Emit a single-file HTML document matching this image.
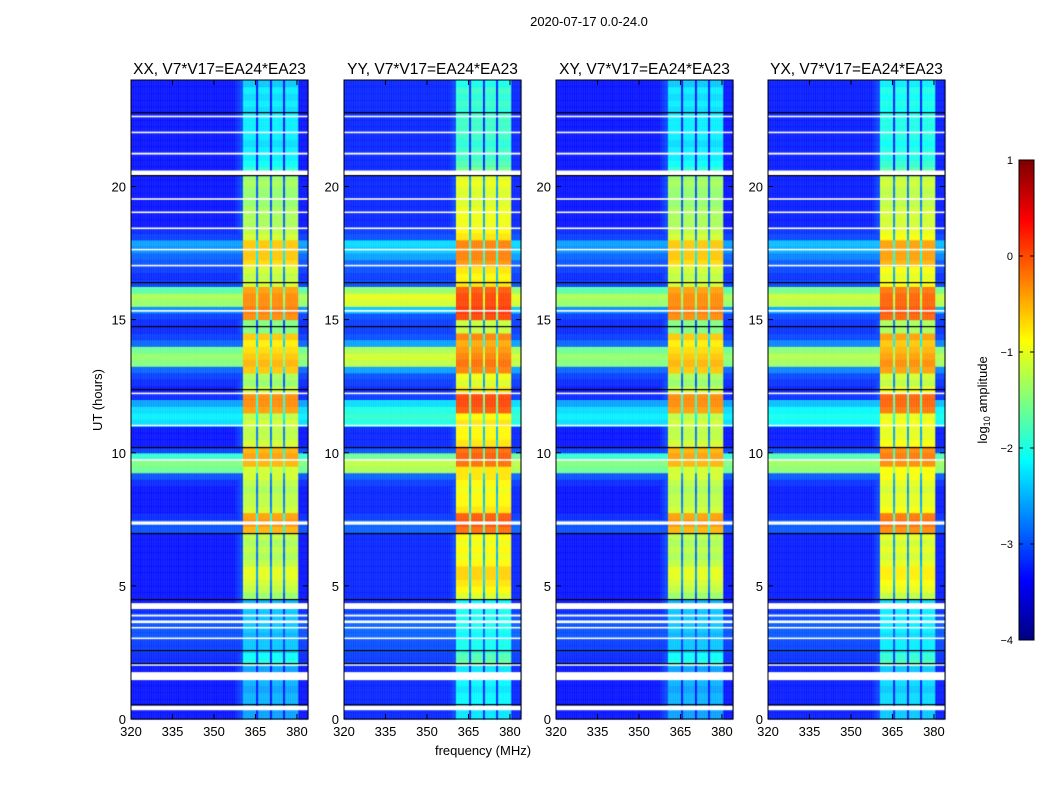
<!DOCTYPE html>
<html><head><meta charset="utf-8"><style>
body{margin:0;background:#fff;width:1050px;height:800px;overflow:hidden;position:relative;font-family:"Liberation Sans",sans-serif}
canvas{position:absolute}
svg{position:absolute;left:0;top:0}
</style></head><body>
<canvas id="cv" width="1050" height="800"></canvas>
<svg id="sv" width="1050" height="800"></svg>
<script>
// ---- data ----
const panelTitles=["XX, V7*V17=EA24*EA23","YY, V7*V17=EA24*EA23","XY, V7*V17=EA24*EA23","YX, V7*V17=EA24*EA23"];
const panelBandOffset=[-0.2,0.15,-0.2,0.0];
const panelBroadOffset=[0,0.3,0,0.15];
const xTicks=[320,335,350,365,380];
const yTicks=[0,5,10,15,20];
const cbTicks=[1,0,-1,-2,-3,-4];
// band level (log10 amp) per 0.25 hr, 96 rows
const bandLevel=[-2.4,-2.4,-2.3,-2.3,-2.4,-2.3,-2.3,-2.4,-1.8,-1.9,-2.2,-2.2,-2.3,-2.2,-2.2,-2.2,-2.2,-2.3,
 -1.2,-1.0,-0.9,-0.8,-0.8,-1.0,-1.1,-1.0,-1.1,-1.0,-0.3,-0.1,-0.2,-0.9,-1.0,-1.0,-1.1,-1.0,-0.9,-0.9,-0.3,-0.2,-0.3,-0.9,
 -1.0,-1.0,-0.9,-1.0,-0.2,-0.1,-0.1,-0.9,-1.2,-1.1,-0.4,-0.3,-0.4,-0.5,-0.6,-0.4,-1.3,-1.3,-0.1,0.0,-0.1,-0.1,-0.2,-0.9,
 -1.0,-0.9,-0.5,-0.4,-0.4,-0.4,-0.9,-1.0,-1.1,-1.1,-1.1,-1.2,-1.2,-1.2,-1.1,-1.2,-1.7,-1.9,-2.0,-2.0,-2.1,-2.0,-2.0,-2.0,
 -2.0,-2.1,-2.0,-2.1,-2.0,-2.2];
// broadband level per 0.25 hr
const broadLevel=[-3.3,-3.3,-3.3,-3.3,-3.3,-3.3,-3.3,-3.3,-3.2,-3.2,-3.1,-3.1,-3.0,-3.0,-3.0,-3.1,-3.2,-3.3,
 -3.3,-3.3,-3.3,-3.3,-3.3,-3.3,-3.3,-3.3,-3.3,-3.3,-3.0,-3.0,-3.2,-3.3,-3.3,-3.3,-3.3,-3.2,-3.0,-1.6,-1.5,-1.9,-3.1,
 -3.3,-3.3,-3.3,-2.3,-2.2,-2.3,-2.6,-3.2,-3.3,-3.2,-3.1,-2.9,-1.5,-1.4,-1.6,-2.9,-3.1,-3.2,-3.2,-3.1,-2.7,-1.4,-1.3,-1.7,
 -3.1,-3.2,-3.1,-3.0,-2.9,-2.7,-2.6,-3.1,-3.2,-3.3,-3.3,-3.3,-3.3,-3.3,-3.3,-3.3,-3.3,-3.3,-3.3,-3.3,-3.3,-3.3,-3.3,
 -3.3,-3.3,-3.3,-3.3,-3.3,-3.3,-3.3,-3.3];
// white (flagged) gaps [start hr, end hr]
const gapStart=[0.33,1.46,2.0,3.0,3.4,3.6,3.85,4.13,7.3,9.7,11.0,12.2,15.3,17.0,17.6,18.4,19.0,19.5,20.4,21.2,22.0,22.6];
const gapEnd  =[0.5,1.76,2.06,3.06,3.46,3.7,3.92,4.35,7.42,9.76,11.05,12.26,15.36,17.06,17.66,18.46,19.06,19.56,20.6,21.27,22.06,22.66];
// black lines (hr)
const blackLines=[0.55,2.12,2.6,4.5,7.0,10.2,12.4,14.75,16.4,20.45,22.8];
// ---- layout ----
const panelX=[131,344,556,768], PW=177, PT=80, PB=719;
const fMin=320,fMax=384,tMax=24;
function xs(p,f){return panelX[p]+(f-fMin)/(fMax-fMin)*PW}
function ys(t){return PB-t/tMax*(PB-PT)}
function jet(v){
 const c=x=>Math.max(0,Math.min(1,x));
 const r=c(1.5-Math.abs(4*v-3)),g=c(1.5-Math.abs(4*v-2)),b=c(1.5-Math.abs(4*v-1));
 return `rgb(${r*255|0},${g*255|0},${b*255|0})`}
function lv(x){return jet((x+4)/5)}
function freqMask(fc){
 if(fc>=360.5&&fc<380.5){
  if(Math.abs(fc-365.6)<0.3||Math.abs(fc-370.6)<0.3||Math.abs(fc-375.4)<0.3) return -1.6;
  return 0;}
 return null;}
const cv=document.getElementById('cv'),ctx=cv.getContext('2d');
const step=0.25;
for(let p=0;p<4;p++){
 for(let i=0;i<bandLevel.length;i++){
  const t0=i*0.25,t1=t0+0.25;
  for(let f=fMin;f<fMax;f+=step){
   const fc=f+step/2;
   const m=freqMask(fc);
   let v=broadLevel[i]+panelBroadOffset[p]*(broadLevel[i]>-3?1:0.3);
   if(m!==null) v=Math.max(v,bandLevel[i]+panelBandOffset[p]+m);
   else if(fc>=357&&fc<360.5) v=Math.max(v,-3.3+(fc-357)/3.5*0.3);
   ctx.fillStyle=lv(Math.min(1,v));
   const x0=xs(p,f),x1=xs(p,f+step);
   ctx.fillRect(x0,ys(t1),x1-x0+0.3,ys(t0)-ys(t1)+0.5);
  }
 }
 ctx.fillStyle='#fff';
 for(let g=0;g<gapStart.length;g++) ctx.fillRect(panelX[p],ys(gapEnd[g]),PW,ys(gapStart[g])-ys(gapEnd[g]));
 ctx.fillStyle='#000';
 for(const b of blackLines) ctx.fillRect(panelX[p],Math.round(ys(b)),PW,1.2);
}
// colorbar
const CB={x:1019,y:160,w:15,h:480};
for(let k=0;k<CB.h;k++){ctx.fillStyle=jet(1-k/CB.h);ctx.fillRect(CB.x,CB.y+k,CB.w,1)}
// ---- svg axes ----
const sv=document.getElementById('sv'),NS='http://www.w3.org/2000/svg';
function el(tag,attrs,txt){const e=document.createElementNS(NS,tag);for(const k in attrs)e.setAttribute(k,attrs[k]);if(txt!==undefined)e.textContent=txt;sv.appendChild(e);return e}
let e=el('text',{x:589,y:26,'font-size':13,'text-anchor':'middle'},'2020-07-17 0.0-24.0');

for(let p=0;p<4;p++){
 e=el('rect',{x:panelX[p],y:PT,width:PW,height:PB-PT,fill:'none',stroke:'#000','stroke-width':1});
 
 e=el('text',{x:panelX[p]+PW/2,y:74,'font-size':15.5,'text-anchor':'middle'},panelTitles[p]);
 
 for(const f of xTicks){const x=xs(p,f);
  el('line',{x1:x,x2:x,y1:PB,y2:PB-5,stroke:'#000'});el('line',{x1:x,x2:x,y1:PT,y2:PT+5,stroke:'#000'});
  e=el('text',{x:x,y:PB+17,'font-size':13,'text-anchor':'middle'},f);
  }
 for(const t of yTicks){const y=ys(t);
  el('line',{x1:panelX[p],x2:panelX[p]+5,y1:y,y2:y,stroke:'#000'});el('line',{x1:panelX[p]+PW,x2:panelX[p]+PW-5,y1:y,y2:y,stroke:'#000'});
  e=el('text',{x:panelX[p]-5,y:y+5,'font-size':13,'text-anchor':'end'},t);
  }
}
e=el('text',{x:0,y:0,'font-size':13,'text-anchor':'middle',transform:'translate(102,400) rotate(-90)'},'UT (hours)');

e=el('text',{x:483,y:755,'font-size':13,'text-anchor':'middle'},'frequency (MHz)');

e=el('rect',{x:CB.x,y:CB.y,width:CB.w,height:CB.h,fill:'none',stroke:'#000'});

for(const c of cbTicks){const y=CB.y+(1-c)/5*CB.h;
 el('line',{x1:CB.x,x2:CB.x+4,y1:y,y2:y,stroke:'#000'});el('line',{x1:CB.x+CB.w,x2:CB.x+CB.w-4,y1:y,y2:y,stroke:'#000'});
 e=el('text',{x:1013,y:y+4,'font-size':11,'text-anchor':'end'},c<0?'\u2212'+(-c):c);
 }
e=el('text',{x:0,y:0,'font-size':13,'text-anchor':'middle',transform:'translate(987,400) rotate(-90)'});

e.innerHTML='log<tspan font-size="9" dy="3">10</tspan><tspan dy="-3"> amplitude</tspan>';
</script>
</body></html>
